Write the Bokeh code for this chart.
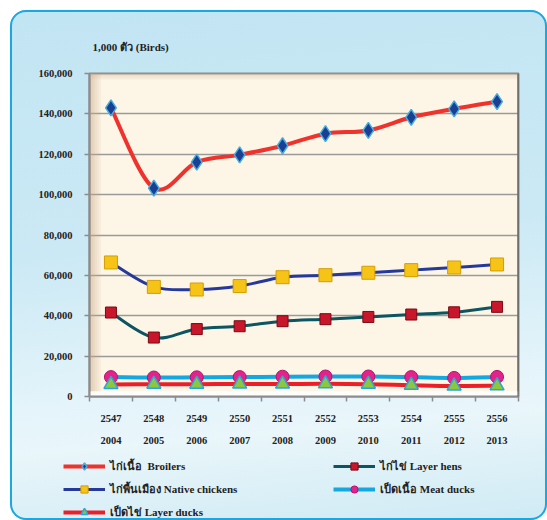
import numpy as np
from bokeh.plotting import figure
from bokeh.layouts import column
from bokeh.models import (Range1d, LinearAxis, FixedTicker, NumeralTickFormatter,
                          Legend, LegendItem, ColumnDataSource, BoxAnnotation, Span)
from bokeh.embed import file_html
from bokeh.resources import INLINE

# ---------------- data ----------------
years_be = ["2547", "2548", "2549", "2550", "2551", "2552", "2553", "2554", "2555", "2556"]
years_ad = ["2004", "2005", "2006", "2007", "2008", "2009", "2010", "2011", "2012", "2013"]

broilers = [143000, 103200, 116100, 119700, 124200, 130200, 131800, 138300, 142500, 146100]
layer_hens = [41600, 29200, 33400, 34800, 37300, 38300, 39400, 40600, 41700, 44400]
native = [66400, 54300, 53000, 54700, 59100, 60100, 61300, 62600, 63900, 65400]
meat_ducks = [9600, 9400, 9500, 9600, 9800, 9900, 9900, 9600, 9200, 9700]
layer_ducks = [6000, 6100, 6100, 6200, 6200, 6300, 6100, 5600, 5200, 5300]

labels = ["ไก่เนื้อ  Broilers", "ไก่ไข่ Layer hens", "ไก่พื้นเมือง Native chickens",
          "เป็ดเนื้อ Meat ducks", "เป็ดไข่ Layer ducks"]
y_ticks = [0, 20000, 40000, 60000, 80000, 100000, 120000, 140000, 160000]
unit_label = "1,000 ตัว (Birds)"

FONT = "Liberation Serif, 'Times New Roman', serif"

# positions of categories on a numeric axis (category i centred at i + 0.5)
xc = [i + 0.5 for i in range(len(years_be))]
xb = [float(i) for i in range(len(years_be) + 1)]

p = figure(width=537, height=443, output_backend="svg", toolbar_location=None,
           x_range=Range1d(0, len(years_be)), y_range=Range1d(0, 160000),
           x_axis_location=None, min_border_left=79, min_border_right=29,
           min_border_top=63, min_border_bottom=57)
p.border_fill_alpha = 0
p.background_fill_color = "#fdf6e6"
p.outline_line_color = "#8c8c8c"
p.outline_line_width = 2

# title
p.title.text = unit_label
p.title.align = "left"
p.title.offset = 3
p.title.standoff = 41
p.title.text_font = FONT
p.title.text_font_size = "11px"
p.title.text_font_style = "bold"
p.title.text_color = "#222222"

# y axis
ya = p.yaxis[0]
ya.ticker = FixedTicker(ticks=y_ticks)
ya.formatter = NumeralTickFormatter(format="0,0")
ya.major_label_text_font = FONT
ya.major_label_text_font_style = "bold"
ya.major_label_text_font_size = "10.5px"
ya.major_label_text_color = "#222222"
ya.major_tick_in = 0
ya.major_tick_out = 5
ya.major_tick_line_color = "#8c8c8c"
ya.major_tick_line_width = 1.5
ya.minor_tick_line_color = None
ya.axis_line_color = "#8c8c8c"
ya.axis_line_width = 2
ya.major_label_standoff = 12

# x axis: labels at centres, ticks at category boundaries
xa = LinearAxis(ticker=FixedTicker(ticks=xc, minor_ticks=xb))
xa.major_label_overrides = {xc[i]: years_be[i] + "\n\n" + years_ad[i] for i in range(len(xc))}
xa.major_label_text_font = FONT
xa.major_label_text_font_style = "bold"
xa.major_label_text_font_size = "10.5px"
xa.major_label_text_line_height = 1.0
xa.major_label_text_color = "#222222"
xa.major_tick_line_color = None
xa.minor_tick_in = 0
xa.minor_tick_out = 5
xa.minor_tick_line_color = "#8c8c8c"
xa.minor_tick_line_width = 1.5
xa.axis_line_color = "#8c8c8c"
xa.axis_line_width = 2
xa.major_label_standoff = 10
p.add_layout(xa, "below")

p.xgrid.grid_line_color = None
p.ygrid.ticker = FixedTicker(ticks=y_ticks)
p.ygrid.grid_line_color = "#9a9a9a"
p.ygrid.grid_line_width = 1.5

# decorative bevel of the plot area
for k in range(6):
    p.add_layout(BoxAnnotation(left=k * 0.045, right=(k + 1) * 0.045, fill_color="#c8a888",
                               fill_alpha=0.55 * (1 - k / 6), line_alpha=0, level="underlay"))
    p.add_layout(BoxAnnotation(bottom=160000 - (k + 1) * 550, top=160000 - k * 550,
                               fill_color="#d2b89c", fill_alpha=0.45 * (1 - k / 6),
                               line_alpha=0, level="underlay"))
p.add_layout(BoxAnnotation(bottom=0, top=2600, fill_color="#ffffff", fill_alpha=0.9,
                           line_alpha=0, level="underlay"))
p.add_layout(Span(location=len(years_be), dimension="height", line_color="#505050", line_width=2))


def smooth_segments(xs, ys):
    """Catmull-Rom control points for drawing a smoothed line through the data points."""
    n = len(xs)
    P = [(xs[i], ys[i]) for i in range(n)]
    x0, y0, x1, y1, cx0, cy0, cx1, cy1 = [], [], [], [], [], [], [], []
    for i in range(n - 1):
        pm = P[i - 1] if i > 0 else P[i]
        pa, pb = P[i], P[i + 1]
        pn = P[i + 2] if i + 2 < n else P[i + 1]
        x0.append(pa[0]); y0.append(pa[1]); x1.append(pb[0]); y1.append(pb[1])
        cx0.append(pa[0] + (pb[0] - pm[0]) / 6); cy0.append(pa[1] + (pb[1] - pm[1]) / 6)
        cx1.append(pb[0] - (pn[0] - pa[0]) / 6); cy1.append(pb[1] - (pn[1] - pa[1]) / 6)
    return dict(x0=x0, y0=y0, x1=x1, y1=y1, cx0=cx0, cy0=cy0, cx1=cx1, cy1=cy1)


series = [
    (broilers, "#f0322c", 4, "diamond", 16, "#1b3f92", "#45aee0", 1.5),
    (layer_hens, "#0d5560", 3, "square", 11, "#c8162a", "#7a0a16", 1),
    (native, "#26399a", 3, "square", 13, "#f6c417", "#d49d00", 1),
    (meat_ducks, "#14a8e2", 4, "circle", 13, "#e3228c", "#b0156c", 1),
    (layer_ducks, "#ec1f28", 4, "triangle", 14, "#8dc63f", "#28a6d6", 1.5),
]

for vals, lc, lw, *_ in series:
    p.bezier(source=ColumnDataSource(smooth_segments(xc, vals)), x0="x0", y0="y0", x1="x1",
             y1="y1", cx0="cx0", cy0="cy0", cx1="cx1", cy1="cy1", line_color=lc, line_width=lw)

for idx in [0, 2, 1, 3, 4]:
    vals, lc, lw, mk, ms, fc, ec, ew = series[idx]
    p.scatter(x=xc, y=vals, marker=mk, size=ms, fill_color=fc, line_color=ec, line_width=ew)

# ---------------- legend strip (second figure) ----------------
# its y range lies below zero, so the series drawn here (same data) stay out of view
q = figure(width=537, height=67, output_backend="svg", toolbar_location=None,
           x_axis_location=None, y_axis_location=None, min_border=0,
           min_border_left=0, min_border_right=0, min_border_top=0, min_border_bottom=0,
           x_range=Range1d(0, len(years_be)), y_range=Range1d(-2, -1))
q.grid.visible = False
q.border_fill_alpha = 0
q.background_fill_alpha = 0
q.outline_line_color = None

items = []
for i, (vals, lc, lw, mk, ms, fc, ec, ew) in enumerate(series):
    lr = q.line(x=xc, y=vals, line_color=lc, line_width=lw)
    sr = q.scatter(x=xc, y=vals, marker=mk, size=ms, fill_color=fc, line_color=ec, line_width=ew)
    items.append(LegendItem(label=labels[i], renderers=[lr, sr]))

legend = Legend(items=items, location=(53, -1), orientation="horizontal", ncols=2,
                glyph_width=42, glyph_height=18, spacing=5, label_width=218, label_standoff=5,
                padding=0, margin=0, border_line_alpha=0, background_fill_alpha=0,
                label_text_font=FONT, label_text_font_style="bold", label_text_font_size="11px",
                label_text_color="#222222")
q.add_layout(legend)

layout = column(p, column(q, spacing=0), spacing=0)
layout.styles = {
    "margin-left": "10px",
    "margin-top": "10px",
    "background": "linear-gradient(175deg, #c2e5f3 0%, #cbe9f5 45%, #e4f4fa 72%, #e9f6fa 80%, #cfeaf4 100%)",
    "border-radius": "16px",
    "box-shadow": "inset 0 0 0 2px #1ba7df",
}

html = file_html(layout, INLINE)
html = html.replace("<body>", '<body style="background:#e0d6ea; margin:0; overflow:hidden;">', 1)
open("out.html", "w").write(html)
